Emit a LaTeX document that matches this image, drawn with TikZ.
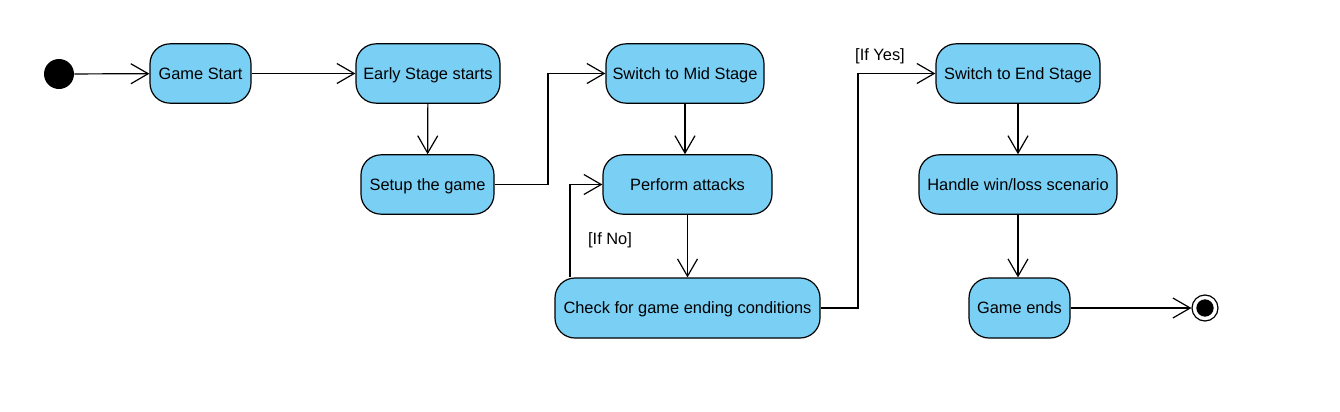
\documentclass[tikz,border=0pt]{standalone}
\usepackage{fontspec}
\setmainfont{Liberation Sans}
\usetikzlibrary{arrows.meta,calc}
\definecolor{actfill}{RGB}{122,207,245}
\tikzset{
  act/.style={draw=black, line width=0.9pt, fill=actfill, rounded corners=15pt,
    inner sep=0pt, minimum height=44.5pt, font=\fontsize{12.3}{14}\selectfont, align=center,
    text height=8.8pt, text depth=0pt},
  flow/.style={draw=black, line width=0.9pt, -{Straight Barb[length=13pt,width=15pt,line width=0.9pt]}},
  guard/.style={font=\fontsize{12.3}{14}\selectfont, inner sep=0pt}
}
\begin{document}
\begin{tikzpicture}[x=0.75pt,y=-0.75pt]
\useasboundingbox (0,0) rectangle (1340,411);
\node[circle, fill=black, minimum size=22.5pt, inner sep=0pt] (start) at (59,74) {};
\node[act, minimum width=75.75pt] (gs) at (200.5,73.5) {Game Start};
\node[act, minimum width=108pt] (early) at (428,73.5) {Early Stage starts};
\node[act, minimum width=99.75pt] (setup) at (427.5,184.5) {Setup the game};
\node[act, minimum width=118.5pt] (mid) at (685,73.5) {Switch to Mid Stage};
\node[act, minimum width=126.75pt] (perf) at (687.5,184.5) {Perform attacks};
\node[act, minimum width=198.75pt, minimum height=45pt] (check) at (687.5,308) {Check for game ending conditions};
\node[act, minimum width=123pt] (endst) at (1018,73.5) {Switch to End Stage};
\node[act, minimum width=148.5pt] (handle) at (1018,184.5) {Handle win/loss scenario};
\node[act, minimum width=75.75pt, minimum height=45pt] (gend) at (1019.5,308) {Game ends};
\node[circle, draw=black, line width=0.9pt, fill=white, minimum size=19.5pt, inner sep=0pt] (final) at (1205,308) {};
\node[circle, fill=black, minimum size=13pt, inner sep=0pt] at (final) {};

\coordinate (b1) at (548,0);
\coordinate (b2) at (858,0);
\coordinate (b3) at (570,0);

\draw[flow] (start) -- (gs);
\draw[flow] (gs) -- (early);
\draw[flow] (early) -- (setup);
\draw[flow] (setup.east) -- (setup.east -| b1) |- (mid.west);
\draw[flow] (mid) -- (mid |- perf.north);
\draw[flow] (perf) -- (perf |- check.north);
\draw[flow] (check.north -| b3) |- (perf.west);
\draw[flow] (check.east) -- (check.east -| b2) |- (endst.west);
\draw[flow] (endst) -- (handle);
\draw[flow] (handle) -- (handle |- gend.north);
\draw[flow] (gend) -- (final);

\node[guard] (ifno) at (610,240) {[If No]};
\node[guard] (ifyes) at (880,56) {[If Yes]};
\end{tikzpicture}
\end{document}
